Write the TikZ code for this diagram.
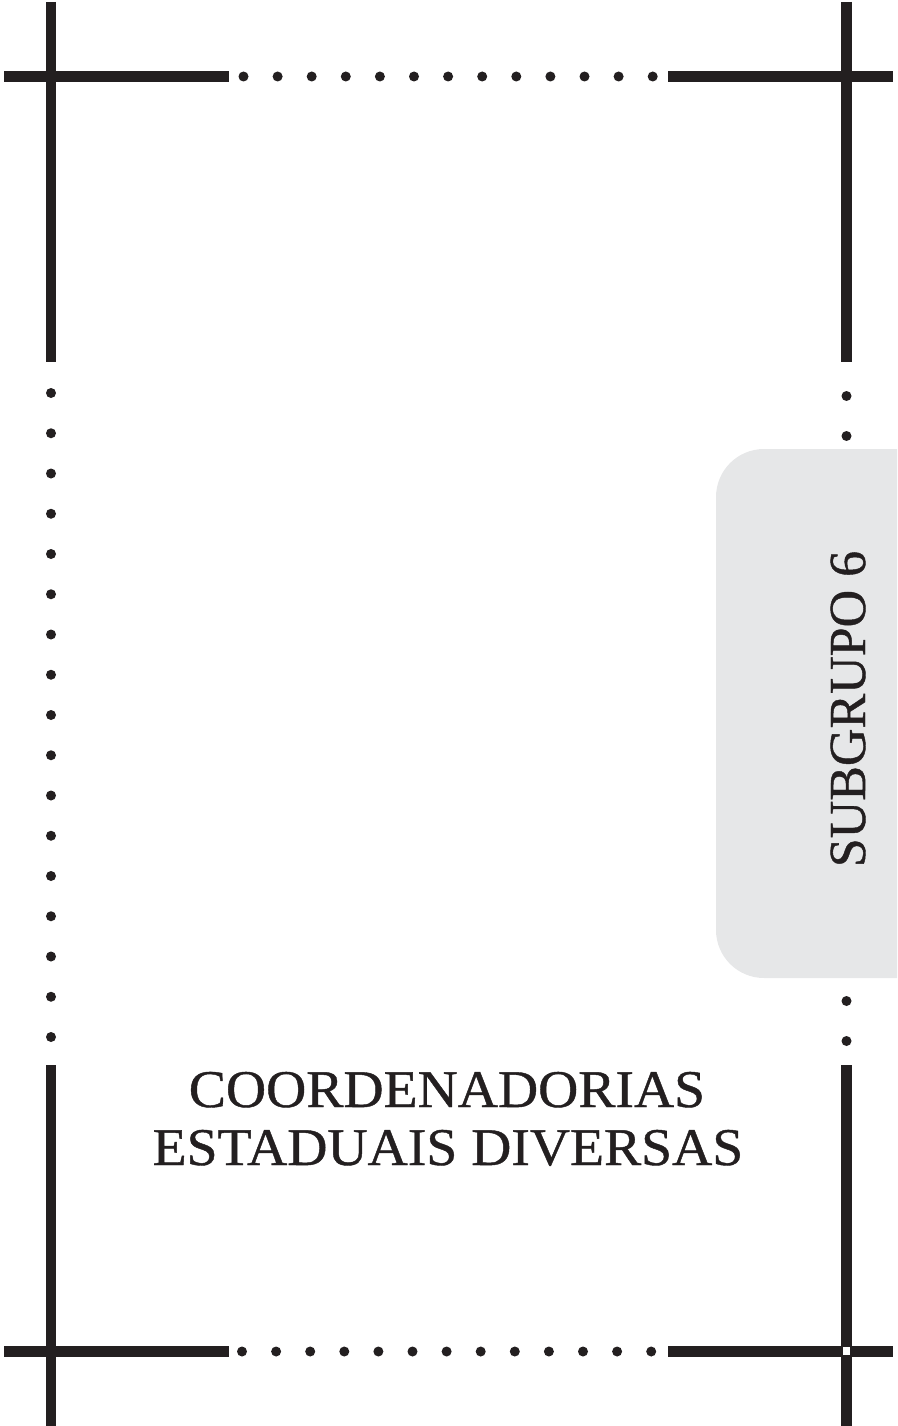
\documentclass[tikz,border=0pt]{standalone}
\usepackage{fontspec}
\setmainfont{Liberation Serif}
\newfontfamily\titlefont[FakeStretch=1.05, FakeBold=0.8]{Liberation Serif}
\newfontfamily\tabfont[FakeBold=0.8]{Liberation Serif}
\usepackage{tikz}
\usetikzlibrary{math}
\definecolor{inkblack}{RGB}{35,31,32}
\definecolor{tabgray}{RGB}{230,231,232}
\tikzset{%
  % thick bar of the crop frame
  framebar/.style={draw=inkblack, line width=10.5pt},
  % small round dot between the bars
  framedot/.style={circle, fill=inkblack, inner sep=0pt, minimum size=10pt},
  % grey side tab
  tabshape/.style={fill=tabgray, rounded corners=48pt},
  titletext/.style={text=inkblack, font=\titlefont\fontsize{53}{58}\selectfont},
  tabtext/.style={text=inkblack, font=\tabfont\fontsize{52}{56}\selectfont}
}

\begin{document}
\begin{tikzpicture}[x=1pt, y=-1pt]
  \useasboundingbox (0,0) rectangle (897,1426);
  \tikzmath{\xl = 51; \xr = 846.5; \yt = 76.5; \yb = 1351.5;}

  % side tab
  \begin{scope}
    \clip (0,0) rectangle (897,1426);
    \fill[tabshape] (716,449) rectangle (980,978);
  \end{scope}

  % bars
  \draw[framebar] (4,\yt) -- (229,\yt) (668,\yt) -- (893,\yt);
  \draw[framebar] (4,\yb) -- (229,\yb) (668,\yb) -- (893,\yb);
  \draw[framebar] (\xl,2) -- (\xl,362) (\xl,1065) -- (\xl,1426);
  \draw[framebar] (\xr,2) -- (\xr,362) (\xr,1065) -- (\xr,1426);
  \fill[white] (843,1347) rectangle (850,1355);

  % dots
  \foreach \k in {0,...,12} {
    \node[framedot] (td\k) at (243.5+34.1*\k,\yt) {};
    \node[framedot] (bd\k) at (242+34.1*\k,\yb) {};
  }
  \foreach \k in {0,...,16} {
    \node[framedot] (ld\k) at (\xl,393+40.25*\k) {};
  }
  \foreach \y [count=\i] in {396,436,1001,1041} {
    \node[framedot] (rd\i) at (\xr,\y) {};
  }

  % texts
  \node[tabtext, rotate=90, anchor=base] (sub) at (865,709) {SUBGRUPO 6};
  \node[titletext, anchor=base] (title1) at (447,1107) {COORDENADORIAS};
  \node[titletext, anchor=base] (title2) at (448,1165) {ESTADUAIS DIVERSAS};
\end{tikzpicture}
\end{document}
